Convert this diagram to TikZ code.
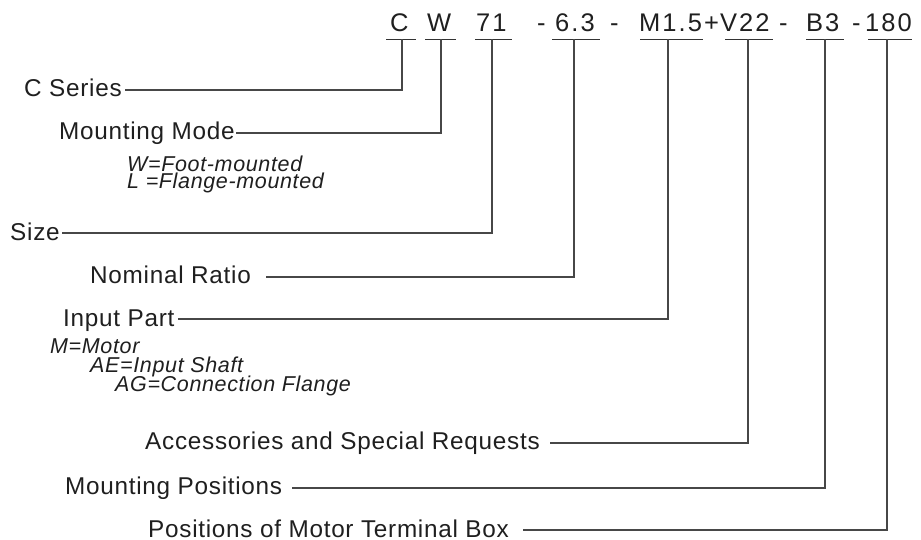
\documentclass[tikz,border=0pt]{standalone}
\usepackage{fontspec}
\setmainfont{Liberation Sans}
\newfontfamily\lblfont[LetterSpace=3]{Liberation Sans}
\newfontfamily\codefont[LetterSpace=8]{Liberation Sans}
\newfontfamily\subfont[LetterSpace=3]{Liberation Sans}
\begin{document}
\begin{tikzpicture}[x=1pt,y=-1pt,
  lbl/.style={anchor=base west,inner sep=0pt,text=black!88,font=\lblfont\fontsize{24.3}{28}\selectfont},
  sub/.style={anchor=base west,inner sep=0pt,text=black!88,font=\subfont\itshape\fontsize{21.5}{25}\selectfont},
  code/.style={anchor=base west,inner sep=0pt,text=black!88,font=\codefont\fontsize{25.5}{30}\selectfont},
  conn/.style={draw=black!72,line width=1.1pt},
  uline/.style={draw=black!80,line width=1.1pt}]
\useasboundingbox (0,0) rectangle (921,539);
% code line
\node[code] (cC) at (390,31) {C};
\node[code] (cW) at (427,31) {W};
\node[code] (c71) at (476,31) {71};
\node[code] (d1) at (537,31) {-};
\node[code] (c63) at (555,31) {6.3};
\node[code] (d2) at (610,31) {-};
\node[code] (cM) at (639,31) {M1.5};
\node[code] (cplus) at (704,31) {+};
\node[code] (cV) at (720,31) {V22};
\node[code] (d3) at (779,31) {-};
\node[code] (cB) at (806,31) {B3};
\node[code] (d4) at (852,31) {-};
\node[code] (c180) at (865,31) {180};
% underlines
\draw[uline] (386,39.3) -- (416,39.3);
\draw[uline] (425,39.3) -- (456,39.3);
\draw[uline] (475,39.3) -- (512,39.3);
\draw[uline] (552,39.3) -- (600,39.3);
\draw[uline] (640,39.3) -- (703,39.3);
\draw[uline] (725,39.3) -- (773,39.3);
\draw[uline] (806,39.3) -- (844,39.3);
\draw[uline] (868,39.3) -- (912,39.3);
% tick coordinates
\coordinate (tC) at (402,39.3);
\coordinate (tW) at (441,39.3);
\coordinate (t71) at (492,39.3);
\coordinate (t63) at (574,39.3);
\coordinate (tM) at (668,39.3);
\coordinate (tV) at (748,39.3);
\coordinate (tB) at (825,39.3);
\coordinate (t180) at (887,39.3);
% labels
\node[lbl] (lC) at (24,96) {C Series};
\node[lbl] (lMM) at (59,139) {Mounting Mode};
\node[sub] (sW) at (127,171) {W=Foot-mounted};
\node[sub] (sL) at (127,188) {L =Flange-mounted};
\node[lbl] (lS) at (10,240) {Size};
\node[lbl] (lN) at (90,283) {Nominal Ratio};
\node[lbl] (lI) at (63,326) {Input Part};
\node[sub] (sM) at (50,353) {M=Motor};
\node[sub] (sAE) at (90,372) {AE=Input Shaft};
\node[sub] (sAG) at (115,391) {AG=Connection Flange};
\node[lbl] (lA) at (145,449) {Accessories and Special Requests};
\node[lbl] (lMP) at (65,494) {Mounting Positions};
\node[lbl] (lT) at (148,537) {Positions of Motor Terminal Box};
% line ends
\coordinate (eC) at (125,90);
\coordinate (eMM) at (236,133);
\coordinate (eS) at (62,233);
\coordinate (eN) at (266,277);
\coordinate (eI) at (178,319);
\coordinate (eA) at (550,443);
\coordinate (eMP) at (292,488);
\coordinate (eT) at (523,530);
% connectors
\draw[conn] (tC) |- (eC);
\draw[conn] (tW) |- (eMM);
\draw[conn] (t71) |- (eS);
\draw[conn] (t63) |- (eN);
\draw[conn] (tM) |- (eI);
\draw[conn] (tV) |- (eA);
\draw[conn] (tB) |- (eMP);
\draw[conn] (t180) |- (eT);
\end{tikzpicture}
\end{document}
